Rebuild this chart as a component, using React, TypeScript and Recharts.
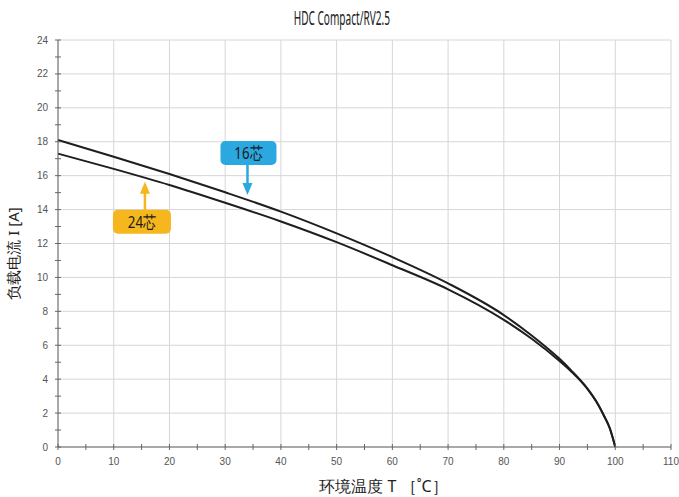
import React from 'react';
import { LineChart, Line, XAxis, YAxis, ReferenceLine, ReferenceDot, Label } from 'recharts';

const temps = [0, 10, 20, 30, 40, 50, 60, 70, 80, 85, 90, 92, 95, 97, 98, 99, 100];
const current16 = [18.1, 17.12, 16.1, 15.02, 13.88, 12.6, 11.2, 9.65, 7.78, 6.58, 5.2, 4.55, 3.45, 2.47, 1.83, 1.12, 0];
const current24 = [17.3, 16.4, 15.45, 14.4, 13.3, 12.08, 10.72, 9.3, 7.5, 6.38, 5.07, 4.48, 3.42, 2.45, 1.82, 1.12, 0];

const xMajor = [0, 10, 20, 30, 40, 50, 60, 70, 80, 90, 100, 110];
const xMinor = [5, 15, 25, 35, 45, 55, 65, 75, 85, 95, 105];
const yMajor = [0, 2, 4, 6, 8, 10, 12, 14, 16, 18, 20, 22, 24];
const yMinor = [1, 3, 5, 7, 9, 11, 13, 15, 17, 19, 21, 23];

const title = 'HDC Compact/RV2.5';
const xTitle = '环境温度 T ［˚C］';
const yTitle = '负载电流 I [A]';
const label16 = '16芯';
const label24 = '24芯';
const tip16 = { x: 34.0, y: 14.86 };
const tip24 = { x: 15.6, y: 15.64 };

const data = temps.map((t, i) => ({ t, c16: current16[i], c24: current24[i] }));

const BLUE = '#2aa8df';
const ORANGE = '#f5b71d';
const GRID = '#d6d6d6';
const AXIS = '#666';
const NUMFONT = "'Liberation Sans', Arial, sans-serif";
const CONDFONT = "'Noto Sans', sans-serif";

const XTick = (props: any) => {
  const { x, y, payload } = props;
  const major = xMajor.includes(payload.value);
  return (
    <g>
      <line x1={x} x2={x} y1={y - 3} y2={y + 3} stroke={AXIS} strokeWidth={1} />
      {major && (
        <text x={x} y={y + 18} textAnchor="middle" fontSize={10} fill="#555" fontFamily={NUMFONT}>
          {payload.value}
        </text>
      )}
    </g>
  );
};

const YTick = (props: any) => {
  const { x, y, payload } = props;
  const major = yMajor.includes(payload.value);
  return (
    <g>
      <line x1={x - 3} x2={x + 3} y1={y} y2={y} stroke={AXIS} strokeWidth={1} />
      {major && (
        <text x={x - 10} y={y + 3.5} textAnchor="end" fontSize={10} fill="#555" fontFamily={NUMFONT}>
          {payload.value}
        </text>
      )}
    </g>
  );
};

const Callout16 = (props: any) => {
  const { cx, cy } = props;
  if (cx == null || cy == null) return null;
  const tx = cx + 1;
  return (
    <g>
      <line x1={cx} x2={cx} y1={cy - 30} y2={cy - 11} stroke={BLUE} strokeWidth={2.5} />
      <polygon points={`${cx - 5},${cy - 12} ${cx + 5},${cy - 12} ${cx},${cy}`} fill={BLUE} />
      <rect x={cx - 27} y={cy - 54} width={56} height={24} rx={5} fill={BLUE} />
      <text
        x={tx}
        y={cy - 36}
        textAnchor="middle"
        fontSize={17}
        fill="#1a1a1a"
        fontFamily={CONDFONT}
        transform={`translate(${tx} 0) scale(0.78 1) translate(${-tx} 0)`}
      >
        {label16}
      </text>
    </g>
  );
};

const Callout24 = (props: any) => {
  const { cx, cy } = props;
  if (cx == null || cy == null) return null;
  const tx = cx - 3;
  return (
    <g>
      <line x1={cx} x2={cx} y1={cy + 11} y2={cy + 29} stroke={ORANGE} strokeWidth={2.5} />
      <polygon points={`${cx - 5},${cy + 12} ${cx + 5},${cy + 12} ${cx},${cy}`} fill={ORANGE} />
      <rect x={cx - 32} y={cy + 28} width={58} height={24} rx={5} fill={ORANGE} />
      <text
        x={tx}
        y={cy + 46}
        textAnchor="middle"
        fontSize={17}
        fill="#1a1a1a"
        fontFamily={CONDFONT}
        transform={`translate(${tx} 0) scale(0.78 1) translate(${-tx} 0)`}
      >
        {label24}
      </text>
    </g>
  );
};

const XTitle = (props: any) => {
  const vb = props.viewBox || {};
  const cx = vb.x + vb.width / 2 + 19;
  return (
    <text x={cx} y={492} textAnchor="middle" fontSize={16} fill="#222" fontFamily={CONDFONT}>
      {xTitle}
    </text>
  );
};

const YTitle = (props: any) => {
  const vb = props.viewBox || {};
  const cy = vb.y + vb.height / 2 + 10;
  const cx = 19;
  return (
    <text
      x={cx}
      y={cy}
      textAnchor="middle"
      fontSize={15}
      fill="#222"
      fontFamily={CONDFONT}
      transform={`rotate(-90 ${cx} ${cy})`}
    >
      {yTitle}
    </text>
  );
};

export default function App() {
  return (
    <div style={{ position: 'absolute', left: 0, top: 0, width: 679, height: 497, background: '#fff' }}>
      <div
        style={{
          position: 'absolute',
          left: 0,
          top: 7,
          width: 679,
          textAlign: 'center',
          lineHeight: '22px',
        }}
      >
        <span
          style={{
            display: 'inline-block',
            marginLeft: 4,
            fontSize: 19,
            fontFamily: CONDFONT,
            color: '#222',
            transform: 'scaleX(0.53)',
            transformOrigin: 'center',
          }}
        >
          {title}
        </span>
      </div>
      <LineChart width={679} height={497} data={data} margin={{ top: 40, right: 8, left: 0, bottom: 0 }}>
        {xMajor.map((v) => (
          <ReferenceLine key={'gx' + v} x={v} stroke={GRID} strokeWidth={1} />
        ))}
        {yMajor.map((v) => (
          <ReferenceLine key={'gy' + v} y={v} stroke={GRID} strokeWidth={1} />
        ))}
        <XAxis
          dataKey="t"
          type="number"
          domain={[0, 110]}
          ticks={[...xMajor, ...xMinor].sort((a, b) => a - b)}
          interval={0}
          height={50}
          tickSize={0}
          tickMargin={0}
          tick={<XTick />}
          axisLine={{ stroke: AXIS }}
          tickLine={false}
        >
          <Label content={<XTitle />} />
        </XAxis>
        <YAxis
          type="number"
          domain={[0, 24]}
          ticks={[...yMajor, ...yMinor].sort((a, b) => a - b)}
          interval={0}
          width={58}
          tickSize={0}
          tickMargin={0}
          tick={<YTick />}
          axisLine={{ stroke: AXIS }}
          tickLine={false}
        >
          <Label content={<YTitle />} />
        </YAxis>
        <Line type="monotone" dataKey="c16" stroke="#1e1e1e" strokeWidth={2} dot={false} isAnimationActive={false} />
        <Line type="monotone" dataKey="c24" stroke="#1e1e1e" strokeWidth={2} dot={false} isAnimationActive={false} />
        <ReferenceDot x={tip16.x} y={tip16.y} r={0} shape={<Callout16 />} />
        <ReferenceDot x={tip24.x} y={tip24.y} r={0} shape={<Callout24 />} />
      </LineChart>
    </div>
  );
}
